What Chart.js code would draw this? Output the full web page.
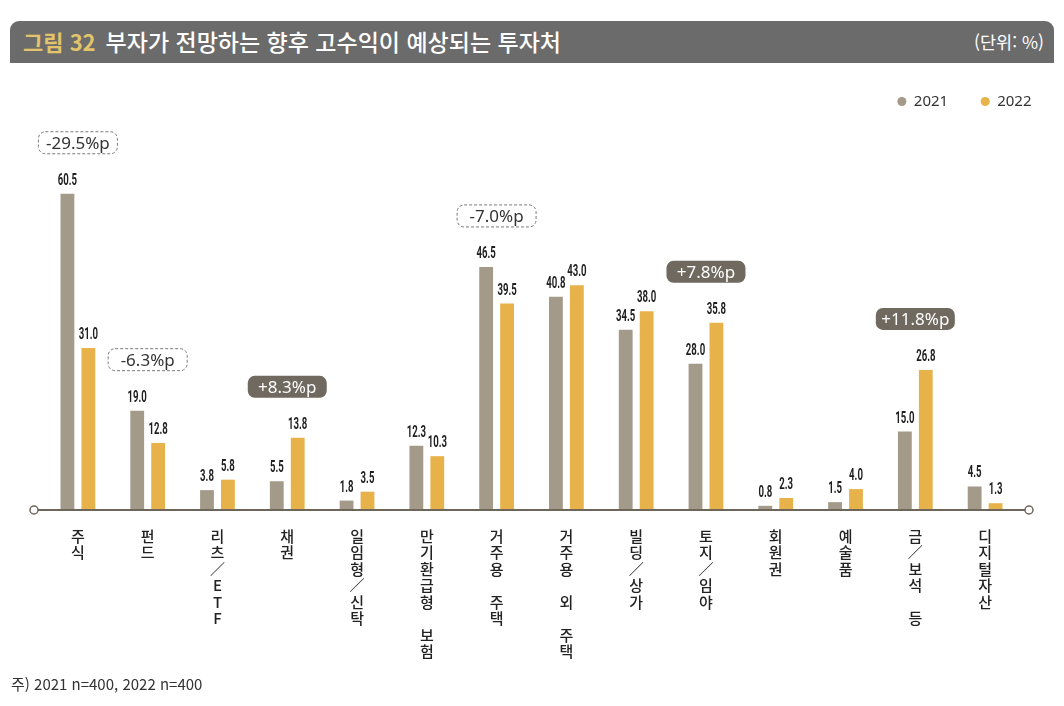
<!DOCTYPE html>
<html lang="ko">
<head>
<meta charset="utf-8">
<script src="https://cdn.jsdelivr.net/npm/chart.js@4/dist/chart.umd.min.js"></script>
<style>
  body { margin: 0; background: #fff; font-family: "Noto Sans CJK KR", "Noto Sans", sans-serif; }
  #wrap { position: relative; width: 1064px; height: 706px; overflow: hidden; }
  #chart { position: absolute; left: 0; top: 0; }
  .header {
    position: absolute; left: 10px; top: 21px; width: 1044px; height: 42px;
    background: #6b6b6b; border-radius: 9px 9px 0 0; color: #fff;
  }
  .header .title { position: absolute; left: 13px; top: 3px; font-size: 23px; font-weight: 500; white-space: nowrap; }
  .header .title b { color: #e2c46a; font-weight: 700; font-size: 22px; margin-right: 10px; }
  .header .unit { position: absolute; right: 10px; top: 8px; font-size: 17.5px; }
  .note { position: absolute; left: 11px; top: 673px; font-size: 15px; color: #333; }
</style>
</head>
<body>
<div id="wrap">
  <canvas id="chart" width="1064" height="706"></canvas>
  <div class="header">
    <div class="title"><b>그림 32</b>부자가 전망하는 향후 고수익이 예상되는 투자처</div>
    <div class="unit">(단위: %)</div>
  </div>
  <div class="note">주) 2021 n=400, 2022 n=400</div>
</div>
<script>
const categories = ['주식', '펀드', '리츠／ETF', '채권', '일임형／신탁', '만기환급형 보험', '거주용 주택',
  '거주용 외 주택', '빌딩／상가', '토지／임야', '회원권', '예술품', '금／보석 등', '디지털자산'];
const values2021 = [60.5, 19.0, 3.8, 5.5, 1.8, 12.3, 46.5, 40.8, 34.5, 28.0, 0.8, 1.5, 15.0, 4.5];
const values2022 = [31.0, 12.8, 5.8, 13.8, 3.5, 10.3, 39.5, 43.0, 38.0, 35.8, 2.3, 4.0, 26.8, 1.3];
const calloutIndex = [0, 1, 3, 6, 9, 12];
const calloutText = ['-29.5%p', '-6.3%p', '+8.3%p', '-7.0%p', '+7.8%p', '+11.8%p'];
const calloutFilled = [false, false, true, false, true, true];

// vertical labels: one character per line
const verticalLabels = categories.map(c => c.split(''));

function roundRect(ctx, x, y, w, h, r) {
  ctx.beginPath();
  ctx.moveTo(x + r, y);
  ctx.lineTo(x + w - r, y);
  ctx.arcTo(x + w, y, x + w, y + r, r);
  ctx.lineTo(x + w, y + h - r);
  ctx.arcTo(x + w, y + h, x + w - r, y + h, r);
  ctx.lineTo(x + r, y + h);
  ctx.arcTo(x, y + h, x, y + h - r, r);
  ctx.lineTo(x, y + r);
  ctx.arcTo(x, y, x + r, y, r);
  ctx.closePath();
}

const decorations = {
  id: 'decorations',
  afterLayout(chart) {
    // push legend to the right edge of the page
    chart.legend.left += 44;
    chart.legend.right += 44;
  },
  afterDatasetsDraw(chart) {
    const ctx = chart.ctx;
    const area = chart.chartArea;
    const base = chart.scales.y.getPixelForValue(0);

    // axis line with hollow end circles
    ctx.save();
    ctx.strokeStyle = '#6e665a';
    ctx.lineWidth = 2;
    ctx.beginPath();
    ctx.moveTo(area.left - 5, base);
    ctx.lineTo(area.right + 5, base);
    ctx.stroke();
    ctx.fillStyle = '#fff';
    ctx.lineWidth = 1.5;
    [area.left - 9, area.right + 9].forEach(cx => {
      ctx.beginPath();
      ctx.arc(cx, base, 4, 0, Math.PI * 2);
      ctx.fill();
      ctx.stroke();
    });
    ctx.restore();

    // value labels
    ctx.save();
    ctx.fillStyle = '#1e1e1e';
    ctx.textAlign = 'center';
    ctx.textBaseline = 'alphabetic';
    ctx.font = 'bold 16px Roboto, sans-serif';
    chart.data.datasets.forEach((ds, di) => {
      chart.getDatasetMeta(di).data.forEach((bar, i) => {
        ctx.save();
        ctx.translate(bar.x, bar.y - 9);
        ctx.scale(0.6, 1);
        ctx.fillText(ds.data[i].toFixed(1), 0, 0);
        ctx.restore();
      });
    });
    ctx.restore();

    // change callouts
    const m0 = chart.getDatasetMeta(0).data;
    const m1 = chart.getDatasetMeta(1).data;
    calloutIndex.forEach((idx, k) => {
      const cx = (m0[idx].x + m1[idx].x) / 2;
      const top = Math.min(m0[idx].y, m1[idx].y);
      const w = 79, h = 22;
      const y = top - 51 - h / 2;
      ctx.save();
      roundRect(ctx, cx - w / 2, y, w, h, 7);
      if (calloutFilled[k]) {
        ctx.fillStyle = '#6f695f';
        ctx.fill();
      } else {
        ctx.fillStyle = '#fff';
        ctx.fill();
        ctx.setLineDash([3, 2]);
        ctx.strokeStyle = '#7a7a7a';
        ctx.lineWidth = 1;
        ctx.stroke();
      }
      ctx.fillStyle = calloutFilled[k] ? '#fff' : '#333';
      ctx.font = '17px "Noto Sans", sans-serif';
      ctx.textAlign = 'center';
      ctx.textBaseline = 'middle';
      ctx.fillText(calloutText[k], cx, y + h / 2 + 1);
      ctx.restore();
    });
  }
};

new Chart(document.getElementById('chart'), {
  type: 'bar',
  data: {
    labels: verticalLabels,
    datasets: [
      { label: '2021', data: values2021, backgroundColor: '#a39a89' },
      { label: '2022', data: values2022, backgroundColor: '#e8b24a' }
    ]
  },
  options: {
    responsive: false,
    animation: false,
    layout: { padding: { left: 43, right: 44, top: 61.5, bottom: 0 } },
    datasets: { bar: { categoryPercentage: 0.6, barPercentage: 0.66 } },
    plugins: {
      tooltip: { enabled: false },
      legend: {
        position: 'top',
        align: 'end',
        labels: {
          usePointStyle: true,
          pointStyle: 'circle',
          boxWidth: 9,
          boxHeight: 6.4,
          padding: 32.5,
          color: '#333',
          font: { family: '"Noto Sans", sans-serif', size: 15 }
        }
      }
    },
    scales: {
      x: {
        grid: { display: false },
        border: { display: false },
        afterFit: scale => { scale.height = 196; },
        ticks: {
          maxRotation: 0,
          autoSkip: false,
          padding: 10,
          color: '#222',
          font: { family: '"Noto Sans CJK KR", sans-serif', size: 15, weight: '500', lineHeight: 1.1 }
        }
      },
      y: {
        display: false,
        min: 0,
        max: 74.8
      }
    }
  },
  plugins: [decorations]
});
</script>
</body>
</html>
